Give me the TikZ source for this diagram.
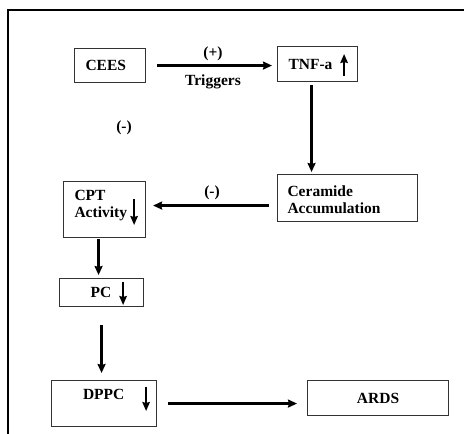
\documentclass[tikz,border=0pt]{standalone}
\usepackage{fontspec}
\setmainfont{Liberation Serif}
\usetikzlibrary{arrows.meta,positioning}
\tikzset{>={Stealth[length=9pt,width=8pt,inset=1pt]}}

\begin{document}
\begin{tikzpicture}[x=1pt,y=-1pt,
    font=\fontsize{15.5}{16.5}\selectfont\bfseries,
    box/.style={draw=black!80,line width=1.1pt,anchor=north west,inner xsep=11pt,inner ysep=0pt,align=left},
    flow/.style={->,line width=2.2pt},
    trend/.style={->,line width=1.8pt,>={Stealth[length=9pt,width=7.5pt,inset=1pt]}}]

        \useasboundingbox (0,0) rectangle (464,434);
        \draw[line width=2pt] (8,434) -- (8,10) -- (464,10);

        % boxes
        \node[box,text width=49pt,minimum height=34pt] (cees) at (74,48) {CEES};
        \node[box,text width=58pt,minimum height=35pt] (tnf) at (277,46) {TNF-a};
        \node[box,inner xsep=10pt,text width=120pt,text height=22pt,text depth=25pt] (cer) at (277,174) {Ceramide\\Accumulation};
        \node[box,text width=60pt,text height=19pt,text depth=37pt] (cpt) at (63,181) {CPT\\Activity};
        \node[box,inner xsep=31pt,text width=22pt,minimum height=28pt] (pc) at (59,278) {PC};
        \node[box,inner xsep=31.5pt,text width=42pt,text height=18.5pt,text depth=27.5pt] (dppc) at (51,380) {DPPC};
        \node[box,inner xsep=0pt,text width=141pt,align=center,minimum height=35pt] (ards) at (307,380) {ARDS};

        % up / down marks
        \draw[trend] ([xshift=-14pt,yshift=-30pt]tnf.north east) -- ++(0,-22);
        \draw[trend] ([xshift=-12pt,yshift=-18pt]cpt.north east) -- ++(0,26);
        \draw[trend] ([xshift=-21pt,yshift=-4pt]pc.north east) -- ++(0,23);
        \draw[trend] ([xshift=-11pt,yshift=-7pt]dppc.north east) -- ++(0,24);

        % connectors
        \draw[flow,shorten <=11pt,shorten >=5pt] (cees.east) -- (cees.east -| tnf.west);
        \node (plus) at (213,54) {(+)};
        \node (trig) at (213,82) {Triggers};

        \coordinate (tdown) at ([xshift=-6pt]tnf.south);
        \draw[flow,shorten <=3pt,shorten >=2pt] (tdown) -- (tdown |- cer.north);

        \coordinate (cleft) at ([yshift=-7.5pt]cer.west);
        \draw[flow,shorten <=8pt,shorten >=7pt] (cleft) -- (cleft -| cpt.east);
        \node (minusb) at (212,193) {(-)};

        \coordinate (cdown) at ([xshift=-6pt]cpt.south);
        \draw[flow,shorten <=1pt,shorten >=3pt] (cdown) -- (cdown |- pc.north);

        \draw[flow,shorten <=18pt,shorten >=7pt] (pc.south) -- (pc.south |- dppc.north);
        \draw[flow,shorten <=11pt,shorten >=10pt] (dppc.east) -- (dppc.east -| ards.west);

        \node (minusa) at (124,128) {(-)};
\end{tikzpicture}
\end{document}
